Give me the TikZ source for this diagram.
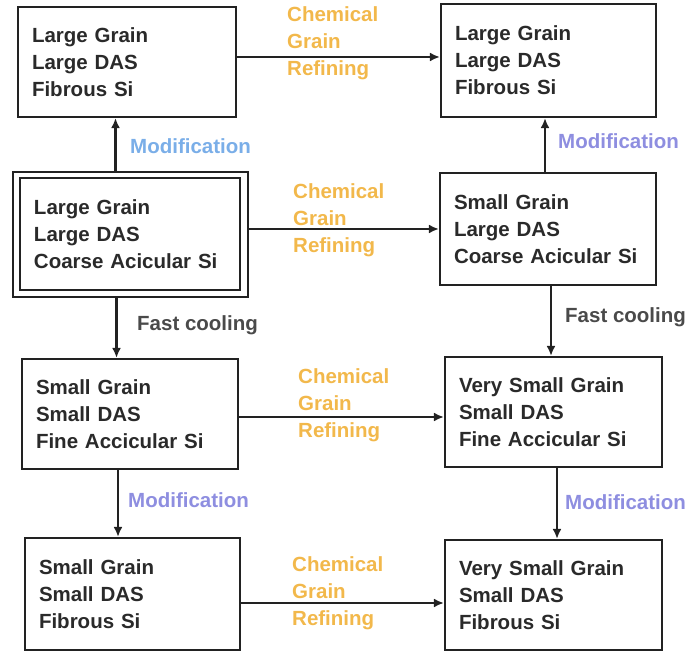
\documentclass[tikz,border=0pt]{standalone}
\usepackage{fontspec}
\setmainfont{Liberation Sans}
\usetikzlibrary{arrows.meta}
\definecolor{boxtext}{HTML}{2A2A2A}
\definecolor{lineclr}{HTML}{222222}
\definecolor{chemclr}{HTML}{F2B84B}
\definecolor{modblue}{HTML}{7AAEE8}
\definecolor{modlav}{HTML}{8E8EE0}
\definecolor{coolclr}{HTML}{4A4A4A}
\tikzset{
  stbox/.style={draw=lineclr, line width=2.2pt, rectangle, inner xsep=14pt, inner ysep=0pt,
    align=left, text=boxtext, font=\bfseries\fontsize{20.5}{27}\selectfont},
  arr/.style={draw=lineclr, line width=2.4pt, -{Latex[length=10pt,width=9pt]}},
  chemlbl/.style={anchor=north west, inner sep=0pt, align=left, text=chemclr, font=\bfseries\fontsize{20.5}{27}\selectfont},
  modlbl/.style={anchor=base west, inner sep=0pt, font=\bfseries\fontsize{20.5}{27}\selectfont},
  coollbl/.style={anchor=base west, inner sep=0pt, text=coolclr, font=\bfseries\fontsize{20.5}{27}\selectfont}
}
\begin{document}
\begin{tikzpicture}[x=1pt,y=-1pt]
\useasboundingbox (0,0) rectangle (694,652);
% boxes
\node[stbox, minimum width=218pt, minimum height=110pt, text width=190pt] (A) at (127,62) {Large Grain\\Large DAS\\Fibrous Si};
\node[stbox, minimum width=215pt, minimum height=113pt, text width=187pt] (B) at (548.5,60.5) {Large Grain\\Large DAS\\Fibrous Si};
\node[draw=lineclr, line width=2.2pt, rectangle, minimum width=235pt, minimum height=125pt, inner sep=0pt] (Cout) at (130.5,234.5) {};
\node[stbox, minimum width=220pt, minimum height=112pt, text width=192pt] (C) at (130,234) {Large Grain\\Large DAS\\Coarse Acicular Si};
\node[stbox, minimum width=216pt, minimum height=112pt, text width=188pt] (D) at (548,229) {Small Grain\\Large DAS\\Coarse Acicular Si};
\node[stbox, minimum width=216pt, minimum height=110pt, text width=188pt] (E) at (130,414) {Small Grain\\Small DAS\\Fine Accicular Si};
\node[stbox, minimum width=217pt, minimum height=110pt, text width=189pt] (F) at (553.5,412) {Very Small Grain\\Small DAS\\Fine Accicular Si};
\node[stbox, minimum width=215pt, minimum height=112pt, text width=187pt] (G) at (132.5,594) {Small Grain\\Small DAS\\Fibrous Si};
\node[stbox, minimum width=217pt, minimum height=110pt, text width=189pt] (H) at (553.5,595) {Very Small Grain\\Small DAS\\Fibrous Si};
% horizontal arrows
\draw[arr] ([yshift=5pt]A.east) -- ([yshift=5pt]A.east -| B.west);
\draw[arr] (Cout.east |- D.west) -- (D.west);
\draw[arr] ([yshift=-3pt]E.east) -- ([yshift=-3pt]E.east -| F.west);
\draw[arr] ([yshift=-9pt]G.east) -- ([yshift=-9pt]G.east -| H.west);
% vertical arrows
\draw[arr] ([xshift=-15pt]Cout.north) -- ([xshift=-15pt]Cout.north |- A.south);
\draw[arr] ([xshift=-3pt]D.north) -- ([xshift=-3pt]D.north |- B.south);
\draw[arr] ([xshift=-14pt]Cout.south) -- ([xshift=-14pt]Cout.south |- E.north);
\draw[arr] ([xshift=3pt]D.south) -- ([xshift=3pt]D.south |- F.north);
\draw[arr] ([xshift=-12pt]E.south) -- ([xshift=-12pt]E.south |- G.north);
\draw[arr] ([xshift=3.5pt]F.south) -- ([xshift=3.5pt]F.south |- H.north);
% labels
\node[chemlbl] (L1) at (287,6) {Chemical\\Grain\\Refining};
\node[chemlbl] (L2) at (293,183) {Chemical\\Grain\\Refining};
\node[chemlbl] (L3) at (298,368) {Chemical\\Grain\\Refining};
\node[chemlbl] (L4) at (292,556) {Chemical\\Grain\\Refining};
\node[modlbl, text=modblue] (M1) at (130,154) {Modification};
\node[modlbl, text=modlav] (M2) at (558,149) {Modification};
\node[modlbl, text=modlav] (M3) at (128,507) {Modification};
\node[modlbl, text=modlav] (M4) at (565,509) {Modification};
\node[coollbl] (F1) at (137,331) {Fast cooling};
\node[coollbl] (F2) at (565,323) {Fast cooling};
\end{tikzpicture}
\end{document}
